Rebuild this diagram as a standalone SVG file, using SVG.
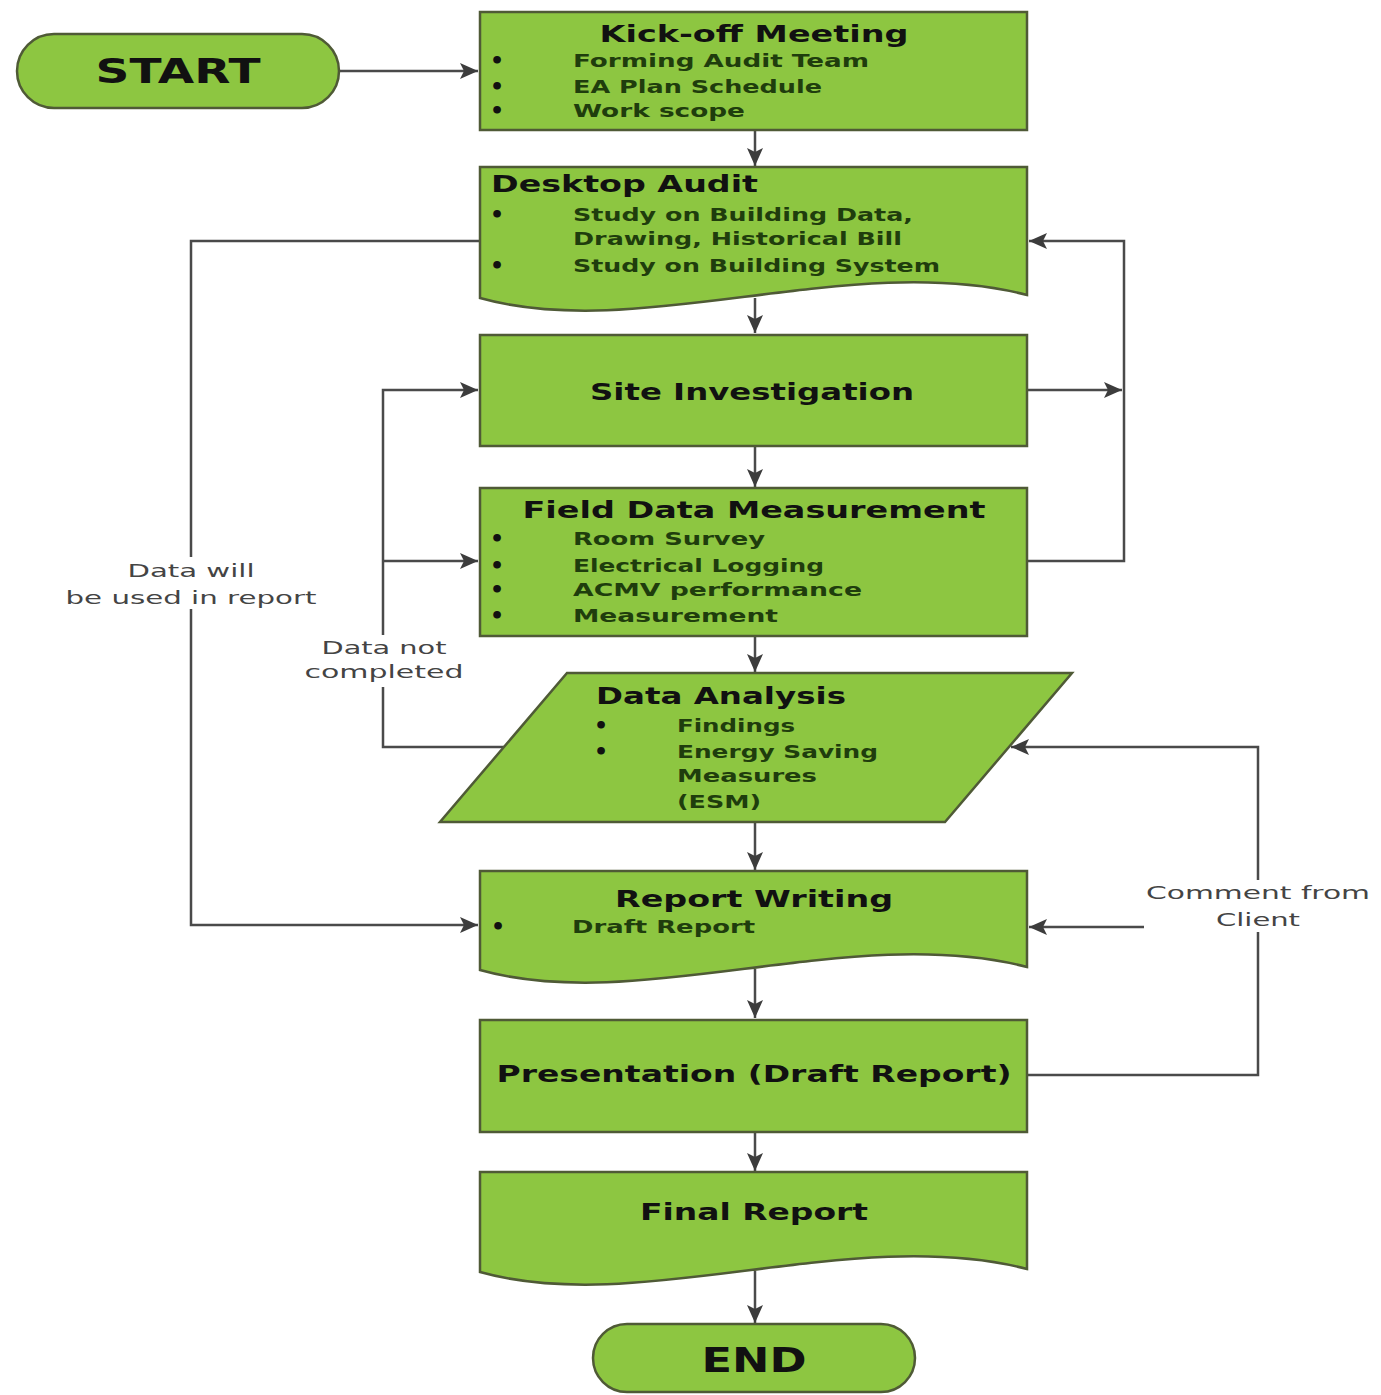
<svg xmlns="http://www.w3.org/2000/svg" width="1381" height="1395" viewBox="0 0 1381 1395">
<style>
.shape{fill:#8dc641;stroke:#4f5a36;stroke-width:2.5}
.title{font-family:"DejaVu Sans",Verdana,sans-serif;font-weight:bold;font-size:23px;fill:#111}
.big{font-family:"DejaVu Sans",Verdana,sans-serif;font-weight:bold;font-size:33px;fill:#111}
.item{font-family:"DejaVu Sans",Verdana,sans-serif;font-weight:bold;font-size:17.5px;fill:#1f3d0d}
.bul{font-family:"DejaVu Sans",Verdana,sans-serif;font-weight:bold;font-size:22px;fill:#111}
.lbl{font-family:"DejaVu Sans",Verdana,sans-serif;font-size:17px;fill:#444}
.conn{fill:none;stroke:#4a4a4a;stroke-width:2.5}
.bg{fill:#fff}
</style>
<defs>
<marker id="ah" markerUnits="userSpaceOnUse" markerWidth="20" markerHeight="16" refX="18" refY="8" orient="auto">
<path d="M0,0 L18,8 L0,16 L4,8 z" fill="#3c3c3c"/>
</marker>
</defs>
<rect width="1381" height="1395" fill="#fff"/>

<g id="connectors">
<path class="conn" d="M340,71 H478" marker-end="url(#ah)"/>
<path class="conn" d="M755,130 V166" marker-end="url(#ah)"/>
<path class="conn" d="M755,298 V333" marker-end="url(#ah)"/>
<path class="conn" d="M755,446 V487" marker-end="url(#ah)"/>
<path class="conn" d="M755,636 V672" marker-end="url(#ah)"/>
<path class="conn" d="M755,822 V870" marker-end="url(#ah)"/>
<path class="conn" d="M755,969 V1018" marker-end="url(#ah)"/>
<path class="conn" d="M755,1132 V1171" marker-end="url(#ah)"/>
<path class="conn" d="M755,1271 V1323" marker-end="url(#ah)"/>
<path class="conn" d="M480,241 H191 V925 H478" marker-end="url(#ah)"/>
<path class="conn" d="M1027,390 H1122" marker-end="url(#ah)"/>
<path class="conn" d="M1027,561 H1124 V241 H1029" marker-end="url(#ah)"/>
<path class="conn" d="M504,747 H383 V390 H478" marker-end="url(#ah)"/>
<path class="conn" d="M383,561 H478" marker-end="url(#ah)"/>
<path class="conn" d="M1027,1075 H1258 V747 H1011" marker-end="url(#ah)"/>
<path class="conn" d="M1146,927 H1029" marker-end="url(#ah)"/>
</g>

<g id="label-data-will">
<rect class="bg" x="62" y="557" width="258" height="52"/>
<text class="lbl" x="191" y="577" text-anchor="middle" textLength="127" lengthAdjust="spacingAndGlyphs">Data will</text>
<text class="lbl" x="191" y="604" text-anchor="middle" textLength="251" lengthAdjust="spacingAndGlyphs">be used in report</text>
</g>
<g id="label-data-not">
<rect class="bg" x="300" y="635" width="168" height="52"/>
<text class="lbl" x="384" y="654" text-anchor="middle" textLength="125" lengthAdjust="spacingAndGlyphs">Data not</text>
<text class="lbl" x="384" y="678" text-anchor="middle" textLength="159" lengthAdjust="spacingAndGlyphs">completed</text>
</g>
<g id="label-comment">
<rect class="bg" x="1144" y="880" width="230" height="52"/>
<text class="lbl" x="1258" y="899" text-anchor="middle" textLength="224" lengthAdjust="spacingAndGlyphs">Comment from</text>
<text class="lbl" x="1258" y="926" text-anchor="middle" textLength="84" lengthAdjust="spacingAndGlyphs">Client</text>
</g>

<g id="start">
<rect class="shape" x="17" y="34" width="322" height="74" rx="37" ry="37"/>
<text class="big" x="178" y="83" text-anchor="middle" textLength="165" lengthAdjust="spacingAndGlyphs">START</text>
</g>

<g id="kickoff">
<rect class="shape" x="480" y="12" width="547" height="118"/>
<text class="title" x="754" y="42" text-anchor="middle" textLength="309" lengthAdjust="spacingAndGlyphs">Kick-off Meeting</text>
<text class="bul" x="490" y="68">•</text>
<text class="bul" x="490" y="94">•</text>
<text class="bul" x="490" y="118">•</text>
<text class="item" x="573" y="67" textLength="296" lengthAdjust="spacingAndGlyphs">Forming Audit Team</text>
<text class="item" x="573" y="93" textLength="249" lengthAdjust="spacingAndGlyphs">EA Plan Schedule</text>
<text class="item" x="573" y="117" textLength="172" lengthAdjust="spacingAndGlyphs">Work scope</text>
</g>

<g id="desktop-audit">
<path class="shape" d="M480,167 H1027 V295 C850,250 640,343 480,298 Z"/>
<text class="title" x="491" y="192" textLength="267" lengthAdjust="spacingAndGlyphs">Desktop Audit</text>
<text class="bul" x="490" y="222">•</text>
<text class="bul" x="490" y="273">•</text>
<text class="item" x="573" y="221" textLength="340" lengthAdjust="spacingAndGlyphs">Study on Building Data,</text>
<text class="item" x="573" y="245" textLength="329" lengthAdjust="spacingAndGlyphs">Drawing, Historical Bill</text>
<text class="item" x="573" y="272" textLength="367" lengthAdjust="spacingAndGlyphs">Study on Building System</text>
</g>

<g id="site-investigation">
<rect class="shape" x="480" y="335" width="547" height="111"/>
<text class="title" x="752" y="400" text-anchor="middle" textLength="324" lengthAdjust="spacingAndGlyphs">Site Investigation</text>
</g>

<g id="field-data">
<rect class="shape" x="480" y="488" width="547" height="148"/>
<text class="title" x="754" y="518" text-anchor="middle" textLength="463" lengthAdjust="spacingAndGlyphs">Field Data Measurement</text>
<text class="bul" x="490" y="546">•</text>
<text class="bul" x="490" y="573">•</text>
<text class="bul" x="490" y="597">•</text>
<text class="bul" x="490" y="623">•</text>
<text class="item" x="573" y="545" textLength="192" lengthAdjust="spacingAndGlyphs">Room Survey</text>
<text class="item" x="573" y="572" textLength="251" lengthAdjust="spacingAndGlyphs">Electrical Logging</text>
<text class="item" x="573" y="596" textLength="289" lengthAdjust="spacingAndGlyphs">ACMV performance</text>
<text class="item" x="573" y="622" textLength="205" lengthAdjust="spacingAndGlyphs">Measurement</text>
</g>

<g id="data-analysis">
<path class="shape" d="M567,673 H1072 L945,822 H440 Z"/>
<text class="title" x="596" y="704" textLength="250" lengthAdjust="spacingAndGlyphs">Data Analysis</text>
<text class="bul" x="594" y="733">•</text>
<text class="bul" x="594" y="759">•</text>
<text class="item" x="677" y="732" textLength="118" lengthAdjust="spacingAndGlyphs">Findings</text>
<text class="item" x="677" y="758" textLength="201" lengthAdjust="spacingAndGlyphs">Energy Saving</text>
<text class="item" x="677" y="782" textLength="140" lengthAdjust="spacingAndGlyphs">Measures</text>
<text class="item" x="677" y="808" textLength="84" lengthAdjust="spacingAndGlyphs">(ESM)</text>
</g>

<g id="report-writing">
<path class="shape" d="M480,871 H1027 V967 C850,922 640,1015 480,970 Z"/>
<text class="title" x="754" y="907" text-anchor="middle" textLength="278" lengthAdjust="spacingAndGlyphs">Report Writing</text>
<text class="bul" x="491" y="934">•</text>
<text class="item" x="572" y="933" textLength="183" lengthAdjust="spacingAndGlyphs">Draft Report</text>
</g>

<g id="presentation">
<rect class="shape" x="480" y="1020" width="547" height="112"/>
<text class="title" x="754" y="1082" text-anchor="middle" textLength="515" lengthAdjust="spacingAndGlyphs">Presentation (Draft Report)</text>
</g>

<g id="final-report">
<path class="shape" d="M480,1172 H1027 V1269 C850,1224 640,1317 480,1272 Z"/>
<text class="title" x="754" y="1220" text-anchor="middle" textLength="228" lengthAdjust="spacingAndGlyphs">Final Report</text>
</g>

<g id="end">
<rect class="shape" x="593" y="1324" width="322" height="68" rx="34" ry="34"/>
<text class="big" x="754" y="1372" text-anchor="middle" textLength="105" lengthAdjust="spacingAndGlyphs">END</text>
</g>
</svg>
